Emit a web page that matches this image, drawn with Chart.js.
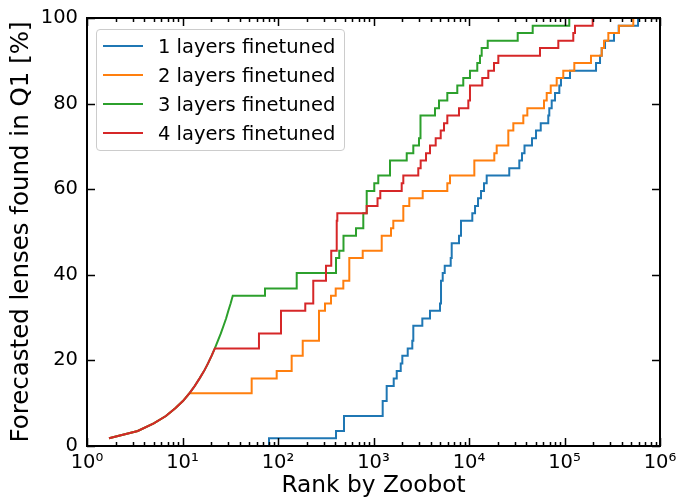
<!DOCTYPE html>
<html>
<head>
<meta charset="utf-8">
<script src="https://cdn.jsdelivr.net/npm/chart.js@4/dist/chart.umd.min.js"></script>
<style>
body { margin: 0; background: #fff; }
#wrap { position: relative; width: 686px; height: 499px; }
#legend {
    position: absolute; left: 96px; top: 29px; width: 247px; height: 120px;
    border: 1px solid #cccccc; border-radius: 4px; background: rgba(255,255,255,0.8);
    font-family: "DejaVu Sans"; font-size: 19.5px; color: #000;
}
.row { position: absolute; left: 0; height: 29px; display: flex; align-items: center; white-space: nowrap; }
.swatch { width: 40px; height: 2px; margin-left: 6px; margin-right: 15px; }
</style>
</head>
<body>
<div id="wrap">
    <canvas id="chart" width="686" height="499"></canvas>
    <div id="legend"></div>
</div>
<script>
const seriesLabels = ["1 layers finetuned", "2 layers finetuned", "3 layers finetuned", "4 layers finetuned"];
const seriesColors = ["#1f77b4", "#ff7f0e", "#2ca02c", "#d62728"];

// top of the ranking: every candidate is a lens (2, 3 and 4 layers share it)
const headRank = [1.7, 3.4, 5.0, 6.7, 8.4, 10.1, 11.8, 13.4, 15.1, 16.8, 18.5, 20.2, 21.8, 23.5, 25.2, 26.9, 28.6, 30.2, 31.9, 33.6];
const headPct  = [1.8, 3.5, 5.3, 7.0, 8.8, 10.5, 12.3, 14.0, 15.8, 17.5, 19.3, 21.1, 22.8, 24.6, 26.3, 28.1, 29.8, 31.6, 33.3, 35.1];
const headLen  = [0, 7, 20, 13];

// steps: rank where the found fraction rises, and the new value
const rank1 = [80.5, 405, 491, 1248, 1374, 1628, 1751, 1928, 2004, 2282, 2548, 2611, 3245, 3906, 4970, 5093, 5306, 5570, 6433, 6590,
               7855, 8245, 10830, 11570, 12430, 13360, 14360, 15320, 26400, 33640, 35900, 38130, 45660, 50320, 56390, 67630, 69300, 73450, 79560, 88270,
               91860, 114200, 213900, 235500, 245300, 265700, 329800, 369300, 589000];
const pct1  = [1.8, 3.5, 7.0, 10.5, 14.0, 15.8, 17.5, 19.3, 21.1, 22.8, 24.6, 28.1, 29.8, 31.6, 33.3, 38.6, 40.4, 42.1, 43.9, 47.4,
               49.1, 52.6, 54.4, 56.1, 57.9, 59.6, 61.4, 63.2, 64.9, 66.7, 68.4, 70.2, 71.9, 73.7, 75.4, 77.2, 78.9, 80.7, 82.5, 84.2,
               86.0, 87.7, 89.5, 91.2, 93.0, 94.7, 96.5, 98.2, 100];

const rank2 = [53.0, 96.9, 139, 181.5, 268.7, 310.7, 359, 402, 483, 558, 771, 1219, 1525, 1612, 2052, 2371, 3275, 5929, 6327, 11370,
               18410, 19500, 25800, 29120, 37050, 40810, 61000, 65130, 71760, 82860, 97100, 126700, 189400, 245300, 259200, 287800, 372200, 525000];
const pct2  = [15.8, 17.5, 21.1, 24.6, 31.6, 33.3, 35.1, 36.8, 38.6, 43.9, 45.6, 49.1, 50.9, 52.6, 56.1, 57.9, 59.6, 61.4, 63.2, 66.7,
               68.4, 70.2, 73.7, 75.4, 77.2, 78.9, 80.7, 82.5, 84.2, 86.0, 87.7, 89.5, 91.2, 93.0, 94.7, 96.5, 98.2, 100];

const rank3 = [73.1, 157, 405, 438, 485, 656, 782, 849, 1019, 1122, 1489, 2228, 2611, 2995, 3105, 4404, 4853, 5929, 7541, 8710,
               10240, 12210, 13030, 13580, 15700, 32360, 46450, 112200];
const pct3  = [36.8, 40.4, 43.9, 45.6, 49.1, 50.9, 54.4, 59.6, 61.4, 63.2, 66.7, 68.4, 70.2, 71.9, 77.2, 78.9, 80.7, 82.5, 84.2, 86.0,
               87.7, 89.5, 91.2, 93.0, 94.7, 96.5, 98.2, 100];

const rank4 = [63.2, 107.5, 193, 234, 318, 361, 412, 418, 849, 1102, 1178, 1974, 2052, 2944, 3118, 3548, 3906, 4480, 5056, 5474,
               5929, 7855, 9840, 10240, 13770, 15930, 18270, 20280, 55380, 86150, 123600, 128800, 197300];
const pct4  = [26.3, 31.6, 33.3, 38.6, 42.1, 45.6, 52.6, 54.4, 56.1, 57.9, 59.6, 61.4, 63.2, 64.9, 66.7, 68.4, 70.2, 71.9, 73.7, 75.4,
               77.2, 78.9, 80.7, 84.2, 86.0, 87.7, 89.5, 91.2, 93.0, 94.7, 96.5, 98.2, 100];

const stepRanks = [rank1, rank2, rank3, rank4];
const stepPcts = [pct1, pct2, pct3, pct4];

const yTicks = [0, 20, 40, 60, 80, 100];
const xTickLabels = ["10⁰", "10¹", "10²", "10³", "10⁴", "10⁵", "10⁶"];

// ---------------------------
// smooth head + step corners
// ---------------------------
function buildPoints(n, ranks, pcts) {
    const pts = [];
    for (let i = 0; i < n; i++) pts.push({ x: headRank[i], y: headPct[i] });
    if (!pts.length) pts.push({ x: ranks[0], y: 0 });
    let prev = pts[pts.length - 1].y;
    ranks.forEach((r, i) => {
        pts.push({ x: r, y: prev });
        pts.push({ x: r, y: pcts[i] });
        prev = pcts[i];
    });
    return pts;
}

// ---------------------------
// frame + inward ticks on all sides
// ---------------------------
const frameTicks = {
    id: "frameTicks",
    afterDatasetsDraw(chart) {
        const { ctx, chartArea: a, scales: { x, y } } = chart;
        ctx.save();
        ctx.strokeStyle = "#000";
        ctx.lineWidth = 1.5;
        ctx.beginPath();
        for (let e = 0; e <= 6; e++) {
            for (let m = 1; m <= 9; m++) {
                if (e === 6 && m > 1) break;
                const px = Math.round(x.getPixelForValue(m * Math.pow(10, e))) + 0.5;
                const len = m === 1 ? 8 : 4;
                ctx.moveTo(px, a.bottom); ctx.lineTo(px, a.bottom - len);
                ctx.moveTo(px, a.top); ctx.lineTo(px, a.top + len);
            }
        }
        yTicks.forEach(v => {
            const py = Math.round(y.getPixelForValue(v)) + 0.5;
            ctx.moveTo(a.left, py); ctx.lineTo(a.left + 8, py);
            ctx.moveTo(a.right, py); ctx.lineTo(a.right - 8, py);
        });
        ctx.stroke();
        ctx.lineWidth = 2;
        ctx.strokeRect(a.left, a.top, a.right - a.left, a.bottom - a.top);
        ctx.restore();
    }
};

Chart.defaults.font.family = "DejaVu Sans";
Chart.defaults.color = "#000";

// later series drawn on top, like the original plot
const datasets = seriesLabels.map((label, i) => ({
    label: label,
    data: buildPoints(headLen[i], stepRanks[i], stepPcts[i]),
    borderColor: seriesColors[i],
    borderWidth: 2,
    pointRadius: 0,
    tension: 0,
    fill: false,
    order: seriesLabels.length - 1 - i
}));

new Chart(document.getElementById("chart").getContext("2d"), {
    type: "line",
    data: { datasets: datasets },
    options: {
        responsive: false,
        animation: false,
        layout: { padding: { left: 0, right: 26, top: 18, bottom: 0 } },
        plugins: { legend: { display: false }, tooltip: { enabled: false } },
        scales: {
            x: {
                type: "logarithmic",
                min: 1,
                max: 1e6,
                grid: { display: false, drawTicks: false },
                border: { display: false },
                ticks: {
                    autoSkip: false,
                    maxRotation: 0,
                    padding: 5,
                    font: { size: 19.5 },
                    callback: v => {
                        const e = Math.log10(v);
                        return Math.abs(e - Math.round(e)) < 1e-9 ? xTickLabels[Math.round(e)] : "";
                    }
                },
                title: { display: true, text: "Rank by Zoobot", font: { size: 23.3, lineHeight: 1.15 }, padding: { top: 0, bottom: 0 } },
                afterFit: s => { s.height = 53; s.paddingLeft = 0; s.paddingRight = 0; }
            },
            y: {
                min: 0,
                max: 100,
                grid: { display: false, drawTicks: false },
                border: { display: false },
                ticks: { stepSize: 20, padding: 9, font: { size: 19.5 } },
                title: { display: true, text: "Forecasted lenses found in Q1 [%]", font: { size: 24.5 }, padding: { top: 7, bottom: 0 } },
                afterFit: s => { s.width = 87; s.paddingTop = 0; s.paddingBottom = 0; }
            }
        }
    },
    plugins: [frameTicks]
});

// legend box in the upper left of the plot
const legend = document.getElementById("legend");
seriesLabels.forEach((label, i) => {
    const row = document.createElement("div");
    row.className = "row";
    row.style.top = (1.5 + i * 29) + "px";
    row.innerHTML = `<span class="swatch" style="background:${seriesColors[i]}"></span><span>${label}</span>`;
    legend.appendChild(row);
});
</script>
</body>
</html>
